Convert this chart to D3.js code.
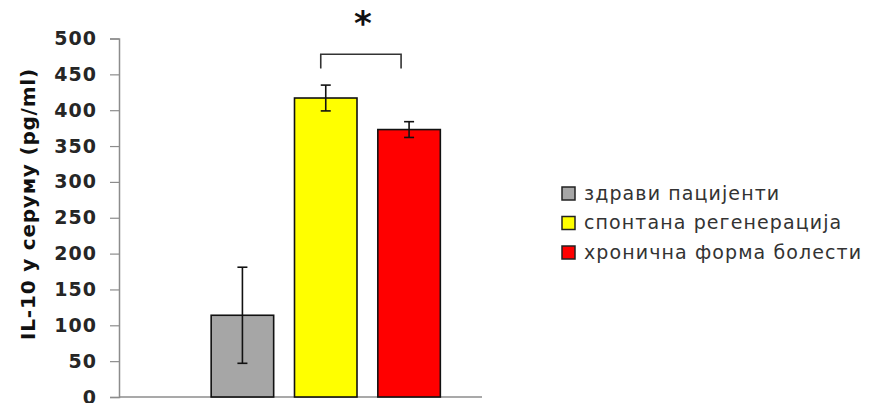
<!DOCTYPE html>
<html><head><meta charset="utf-8">
<script src="https://cdn.jsdelivr.net/npm/d3@7"></script>
<style>body{margin:0;background:#fff}svg{display:block}</style>
</head><body>
<svg id="c" width="873" height="403"></svg>
<script>
const categories = ["здрави пацијенти", "спонтана регенерација", "хронична форма болести"];
const values = [114, 417, 373];
const errors = [67, 18, 11];
const colors = ["#a6a6a6", "#ffff00", "#ff0000"];
const yTicks = [0, 50, 100, 150, 200, 250, 300, 350, 400, 450, 500];
const yTitle = "IL-10 у серуму (pg/ml)";
const sigPair = [1, 2];
const sigLabel = "*";

const svg = d3.select("#c");
const x0 = 119, x1 = 482, yTop = 38.5, yBot = 397;
const y = d3.scaleLinear().domain([0, 500]).range([yBot, yTop]);
const x = d3.scaleBand().domain(categories).range([169.5, 482]).paddingInner(0.25).paddingOuter(0.5);

// x axis line
svg.append("line").attr("x1", x0).attr("x2", x1).attr("y1", yBot).attr("y2", yBot)
  .attr("stroke", "#8c8c8c").attr("stroke-width", 1.5);

// y axis
const yAxis = d3.axisLeft(y).tickValues(yTicks).tickSize(9).tickPadding(13);
const ga = svg.append("g").attr("transform", `translate(${x0},0)`).call(yAxis);
ga.select(".domain").attr("stroke", "#8c8c8c").attr("stroke-width", 1.5);
ga.selectAll(".tick line").attr("stroke", "#8c8c8c").attr("stroke-width", 1.2);
ga.selectAll(".tick text").attr("font-family", "'DejaVu Sans', sans-serif").attr("font-weight", "bold")
  .attr("font-size", 19).attr("letter-spacing", "1px").attr("fill", "#262626");

// y title
svg.append("text").attr("transform", `translate(35,${204}) rotate(-90)`)
  .attr("text-anchor", "middle").attr("font-family", "'DejaVu Sans', sans-serif")
  .attr("font-weight", "bold").attr("font-size", 20).attr("letter-spacing", "0.8px")
  .attr("fill", "#111").text(yTitle);

// bars
svg.selectAll("rect.bar").data(categories).enter().append("rect")
  .attr("x", d => x(d)).attr("width", x.bandwidth())
  .attr("y", (d, i) => y(values[i])).attr("height", (d, i) => yBot - y(values[i]))
  .attr("fill", (d, i) => colors[i]).attr("stroke", "#111").attr("stroke-width", 1.6);

// error bars
const eg = svg.append("g").attr("stroke", "#111").attr("stroke-width", 1.6);
categories.forEach((d, i) => {
  const cx = x(d) + x.bandwidth() / 2;
  const t = y(values[i] + errors[i]), b = y(values[i] - errors[i]);
  eg.append("line").attr("x1", cx).attr("x2", cx).attr("y1", t).attr("y2", b);
  eg.append("line").attr("x1", cx - 5).attr("x2", cx + 5).attr("y1", t).attr("y2", t);
  eg.append("line").attr("x1", cx - 5).attr("x2", cx + 5).attr("y1", b).attr("y2", b);
});

// significance bracket
const bx1 = x(categories[sigPair[0]]) + x.bandwidth() / 2 - 5;
const bx2 = x(categories[sigPair[1]]) + x.bandwidth() / 2 - 8;
const by = y(478), byEnd = y(458);
svg.append("path").attr("d", `M${bx1},${byEnd}V${by}H${bx2}V${byEnd}`)
  .attr("fill", "none").attr("stroke", "#333").attr("stroke-width", 1.6);
svg.append("text").attr("x", (bx1 + bx2) / 2 + 2).attr("y", 35).attr("text-anchor", "middle")
  .attr("font-family", "'DejaVu Sans', sans-serif").attr("font-weight", "bold")
  .attr("font-size", 34).attr("fill", "#111").text(sigLabel);

// legend
const lg = svg.append("g");
categories.forEach((d, i) => {
  const ly = 193.5 + i * 29.5;
  lg.append("rect").attr("x", 562).attr("y", ly - 6.5).attr("width", 13).attr("height", 13)
    .attr("fill", colors[i]).attr("stroke", "#222").attr("stroke-width", 1.5);
  lg.append("text").attr("x", 584).attr("y", ly + 6).attr("font-family", "'DejaVu Sans', sans-serif")
    .attr("font-size", 19).attr("letter-spacing", "1.1px").attr("fill", "#333").text(d);
});
</script>
</body></html>
